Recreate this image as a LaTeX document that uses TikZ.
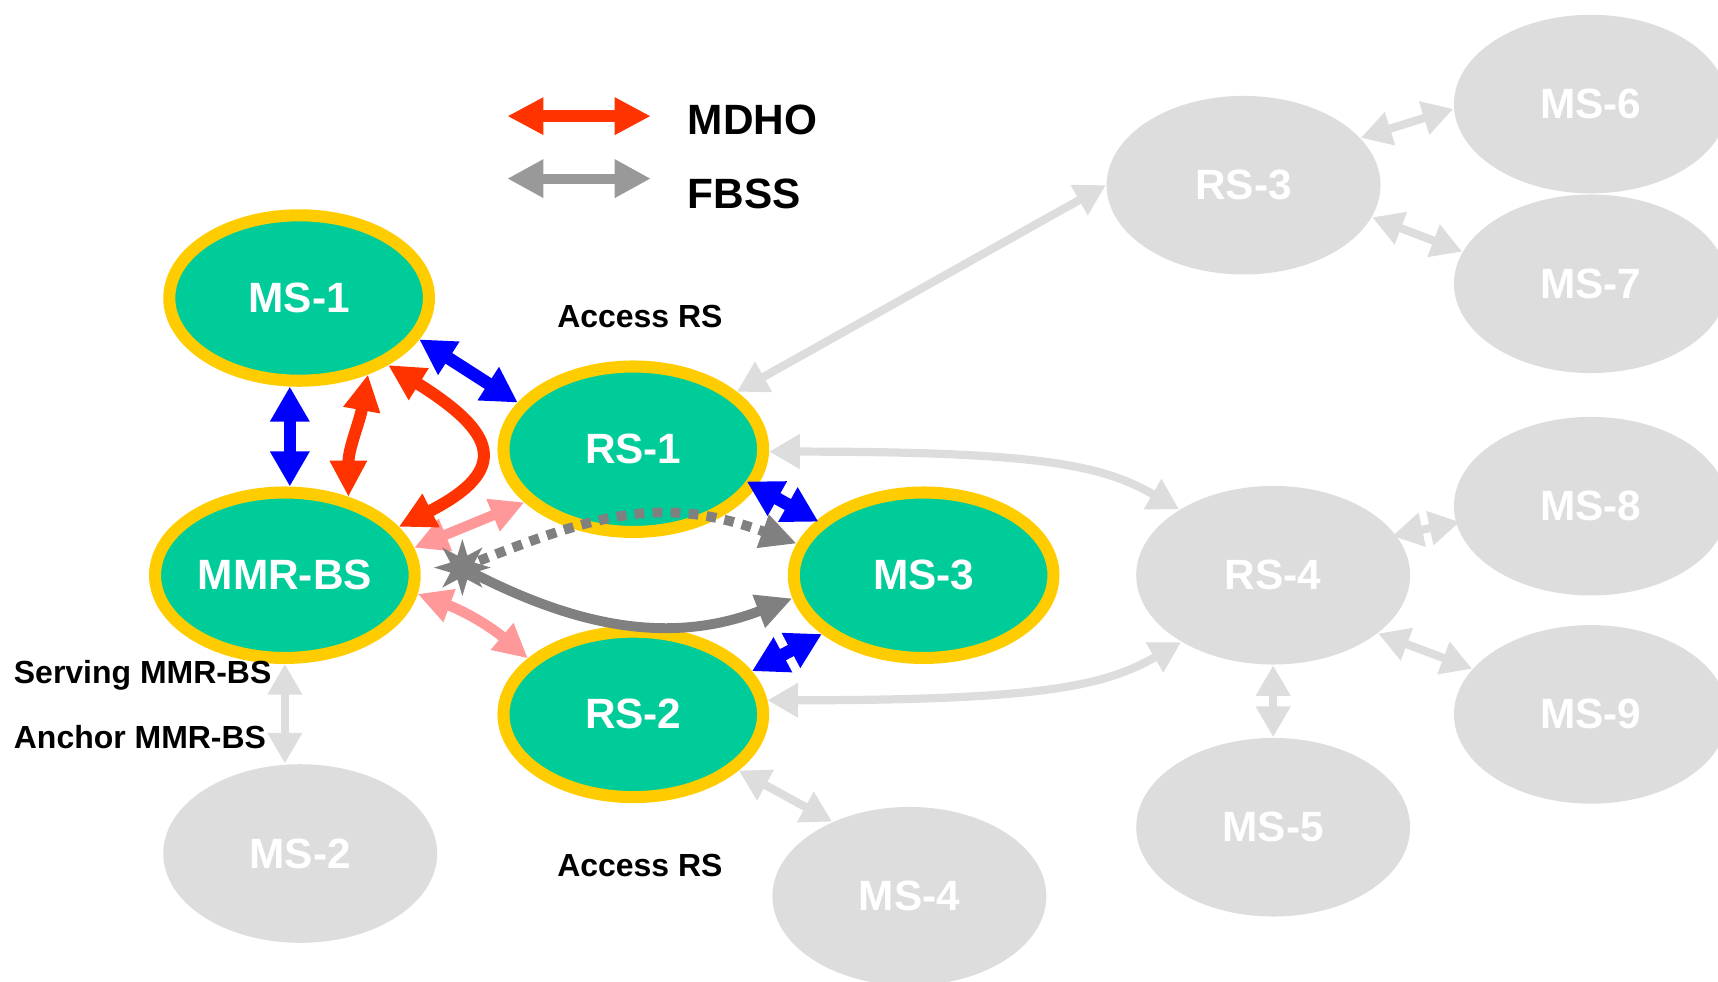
\documentclass[tikz,border=0pt]{standalone}
\usepackage{fontspec}
\setmainfont{Liberation Sans}
\usetikzlibrary{arrows.meta,shapes.geometric}

\definecolor{Teal}{HTML}{00CC99}
\definecolor{Gold}{HTML}{FFCC00}
\definecolor{Ghost}{HTML}{DDDDDD}
\definecolor{Flame}{HTML}{FF3300}
\definecolor{Blush}{HTML}{FF9999}
\definecolor{Slate}{HTML}{808080}
\definecolor{Ash}{HTML}{999999}
\definecolor{Pure}{HTML}{0000FF}

\newcommand\LabelFont{\fontsize{11}{13}\selectfont\bfseries}
\newcommand\NoteFont{\fontsize{8.3}{10}\selectfont\bfseries}

\begin{document}
\begin{tikzpicture}[
      x=0.1mm, y=0.1mm,
      Active/.style={ellipse, draw=Gold, line width=1.1mm, fill=Teal, inner sep=0pt,
        minimum width=23.7mm, minimum height=15.1mm, text=white, font=\LabelFont},
      Faded/.style={ellipse, fill=Ghost, inner sep=0pt,
        minimum width=25mm, minimum height=16.3mm, text=white, font=\LabelFont},
      Key/.style={inner sep=0pt, anchor=base west, font=\LabelFont},
      Note/.style={inner sep=0pt, font=\NoteFont},
      Hub/.style={star, star points=8, star point ratio=2.2, fill=Slate,
        inner sep=0pt, minimum size=5.2mm},
      Radio/.style={draw=Pure, line width=1.15mm, >={Triangle[length=3.2mm,width=3.4mm]}, <->},
      Mdho/.style={draw=Flame, line width=1.1mm, >={Triangle[length=3.3mm,width=3.2mm]}, <->},
      Pale/.style={draw=Blush, line width=0.95mm, >={Triangle[length=3.1mm,width=3mm]}, <->},
      Fbss/.style={draw=Slate, line width=0.9mm, >={Triangle[length=3.3mm,width=3mm]}, ->},
      Idle/.style={draw=Ghost, line width=0.75mm, >={Triangle[length=2.8mm,width=3mm]}, <->},
      ]
      \useasboundingbox (0,0) rectangle (1568,896);

      \node[Active] (MS1) at (273,624) {MS-1};
      \node[Active] (MMR) at (260,371) {MMR-BS};
      \node[Active] (RS1) at (578,486) {RS-1};
      \node[Active] (MS3) at (843,371) {MS-3};
      \node[Active] (RS2) at (578,244) {RS-2};

      \node[Faded] (RS3) at (1135,727) {RS-3};
      \node[Faded] (RS4) at (1162,371) {RS-4};
      \node[Faded] (MS2) at (274,117) {MS-2};
      \node[Faded] (MS4) at (830,78) {MS-4};
      \node[Faded] (MS5) at (1162,141) {MS-5};
      \node[Faded] (MS6) at (1452,801) {MS-6};
      \node[Faded] (MS7) at (1452,637) {MS-7};
      \node[Faded] (MS8) at (1452,434) {MS-8};
      \node[Faded] (MS9) at (1452,244) {MS-9};

      \coordinate (mdhoL) at (463,790);
      \coordinate (mdhoR) at (594,790);
      \coordinate (fbssL) at (463,733);
      \coordinate (fbssR) at (594,733);
      \draw[Mdho] (mdhoL) -- (mdhoR);
      \draw[Idle, draw=Ash, line width=0.9mm, >={Triangle[length=3.3mm,width=3.3mm]}] (fbssL) -- (fbssR);
      \node[Key] (mdho) at (627,773) {MDHO};
      \node[Key] (fbss) at (627,706) {FBSS};

      \node[Note, anchor=base] (acc1) at (584,597) {Access RS};
      \node[Note, anchor=base] (acc2) at (584,96) {Access RS};
      \node[Note, anchor=base west] (serv) at (12,272) {Serving MMR-BS};
      \node[Note, anchor=base west] (anch) at (12,213) {Anchor MMR-BS};

      \draw[Idle] (RS1.29) -- (RS3.180);
      \draw[Idle] (RS1.-1) .. controls +(0:250) and +(150:80) .. (RS4.145);
      \draw[Idle] (RS2.6) .. controls +(0:250) and +(-150:80) .. (RS4.-144);
      \draw[Idle] (RS2.-28) -- (MS4.136);
      \draw[Idle] (MMR.south) -- (MMR.south |- MS2.north);
      \draw[Idle] (RS3.22) -- (MS6.182);
      \draw[Idle] (RS3.-14) -- (MS7.166);
      \draw[Idle, shorten <=-0.4mm, shorten >=-0.4mm] (RS4.18) -- (MS8.-173);
      \draw[Idle] (RS4.-29) -- (MS9.159);
      \draw[Idle] (RS4.south) -- (MS5.north);

      \draw[Pale] (MMR.12) -- (RS1.-154);
      \draw[Pale] (MMR.-8) to[bend left=10] (RS2.152);

      \draw[Fbss, dash pattern=on 0.9mm off 0.75mm] (422,378) to[out=22, in=160, looseness=1.1] (MS3.166);
      \draw[Fbss] (422,378) to[out=-28, in=-159] (MS3.-170);
      \node[Hub] (hub) at (422,378) {};

      \draw[Mdho] (MMR.51) to[out=90, in=-100] (MS1.-48);
      \draw[Mdho] (MS1.-37) to[out=-32, in=27, looseness=2] (MMR.23);

      \draw[Radio] (MS1.-96) -- (MS1.-96 |- MMR.north);
      \draw[Radio] (MS1.-19) -- (RS1.158);
      \draw[Radio, shorten <=-1mm, shorten >=-0.2mm] (RS1.-17) -- (MS3.153);
      \draw[Radio] (RS2.20) -- (MS3.-150);
    \end{tikzpicture}
\end{document}
